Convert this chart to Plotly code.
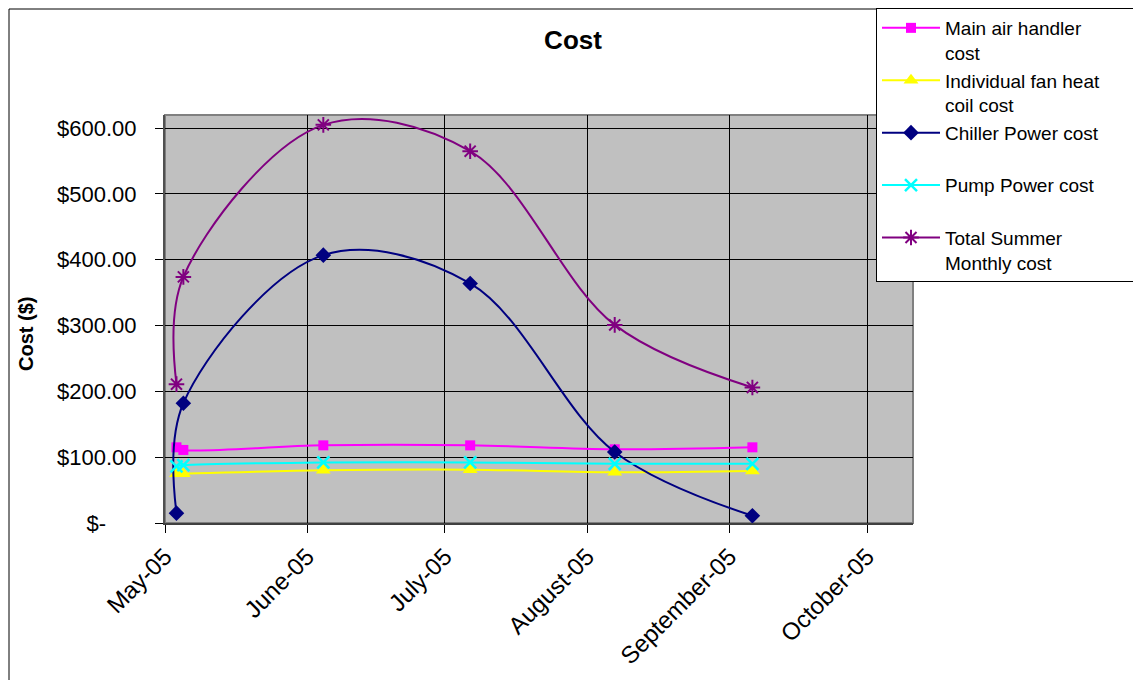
import plotly.graph_objects as go

# ---- data ----
dates = ["2005-05-03 12:00", "2005-05-05", "2005-06-04 12:00",
         "2005-07-06 12:00", "2005-08-07", "2005-09-06"]
main_air_handler = [115, 111, 118, 118, 112, 115]
individual_fan = [75, 75, 80, 81, 77, 79]
chiller_power = [15, 182, 407, 364, 108, 11]
pump_power = [86, 88, 92, 92, 90, 90]
total_summer = [211, 374, 605, 565, 301, 206]

series_names = ["Main air handler<br>cost",
                "Individual fan heat\u00a0\u00a0\u00a0\u00a0\u00a0\u00a0<br>coil cost",
                "Chiller Power cost<br>\u00a0", "Pump Power cost<br>\u00a0",
                "Total Summer<br>Monthly cost"]

x_tickvals = ["2005-05-01", "2005-06-01", "2005-07-01", "2005-08-01",
              "2005-09-01", "2005-10-01"]
x_ticktext = ["May-05", "June-05", "July-05", "August-05", "September-05", "October-05"]
y_tickvals = [0, 100, 200, 300, 400, 500, 600]
y_ticktext = ["$-\u00a0\u00a0\u00a0\u00a0\u00a0", "$100.00", "$200.00", "$300.00",
              "$400.00", "$500.00", "$600.00"]

FONT = "Liberation Sans, Arial, sans-serif"

styles = [
    dict(color="#FF00FF", symbol="square", size=10, lw=0),
    dict(color="#FFFF00", symbol="triangle-up", size=13, lw=0),
    dict(color="#000080", symbol="diamond", size=12, lw=0),
    dict(color="#00FFFF", symbol="x-thin", size=12, lw=2.5),
    dict(color="#800080", symbol="asterisk", size=13, lw=2),
]
values = [main_air_handler, individual_fan, chiller_power, pump_power, total_summer]

fig = go.Figure()
for name, vals, st in zip(series_names, values, styles):
    marker = dict(symbol=st["symbol"], size=st["size"], color=st["color"])
    if st["lw"]:
        marker["line"] = dict(color=st["color"], width=st["lw"])
    else:
        marker["line"] = dict(width=0)
    fig.add_trace(go.Scatter(
        x=dates, y=vals, name=name, mode="lines+markers",
        line=dict(color=st["color"], width=2, shape="spline", smoothing=1),
        marker=marker,
    ))

# page has an 8px body margin; reference pixel p -> figure pixel p-8
OFF = 8
W, H = 1141 - OFF, 680 - OFF
L, T = 165 - OFF, 115 - OFF
R, B = W - (913 - OFF), H - (523 - OFF)
pw, ph = W - L - R, H - T - B

def px_x(p):
    return (p - OFF - L) / pw

def px_y(p):
    return (H - B - (p - OFF)) / ph

fig.update_layout(
    width=W, height=H,
    margin=dict(l=L, r=R, t=T, b=B, autoexpand=False),
    paper_bgcolor="white",
    plot_bgcolor="#C0C0C0",
    font=dict(family=FONT, size=20, color="black"),
    title=dict(text="<b>Cost</b>", x=(573 - OFF) / W, xref="container", xanchor="center",
               y=1 - (40 - OFF) / H, yref="container", yanchor="middle",
               font=dict(size=26, family=FONT, color="black")),
    showlegend=True,
    legend=dict(
        x=px_x(876), y=px_y(8), xanchor="left", yanchor="top",
        bgcolor="white", bordercolor="black", borderwidth=1,
        font=dict(size=19, family=FONT, color="black"),
        valign="top", tracegroupgap=0, itemwidth=58,
    ),
    xaxis=dict(
        type="date", range=["2005-05-01", "2005-10-11"],
        tickvals=x_tickvals, ticktext=x_ticktext, tickangle=-45,
        ticks="outside", ticklen=8, tickcolor="black", tickwidth=1,
        showgrid=True, gridcolor="black", gridwidth=1,
        showline=True, linecolor="#404040", linewidth=2,
        zeroline=False, tickfont=dict(size=24, family=FONT, color="black"),
    ),
    yaxis=dict(
        range=[0, 620], tickvals=y_tickvals, ticktext=y_ticktext,
        ticks="outside", ticklen=8, tickcolor="black", tickwidth=1,
        ticklabelstandoff=14,
        showgrid=True, gridcolor="black", gridwidth=1,
        showline=True, linecolor="#505050", linewidth=2,
        zeroline=False, tickfont=dict(size=22, family=FONT, color="black"),
    ),
    annotations=[dict(
        text="<b>Cost ($)</b>", textangle=-90, showarrow=False,
        xref="paper", yref="paper", x=px_x(26), y=px_y(334),
        xanchor="center", yanchor="middle",
        font=dict(size=20, family=FONT, color="black"),
    )],
    shapes=[
        dict(type="rect", xref="paper", yref="paper", x0=0, x1=1, y0=0, y1=1,
             line=dict(color="#808080", width=2), layer="below"),
        dict(type="rect", xref="paper", yref="paper",
             x0=px_x(9), x1=px_x(1160), y0=px_y(700), y1=px_y(9),
             line=dict(color="black", width=1), layer="above"),
    ],
)

fig.write_html("out.html")
